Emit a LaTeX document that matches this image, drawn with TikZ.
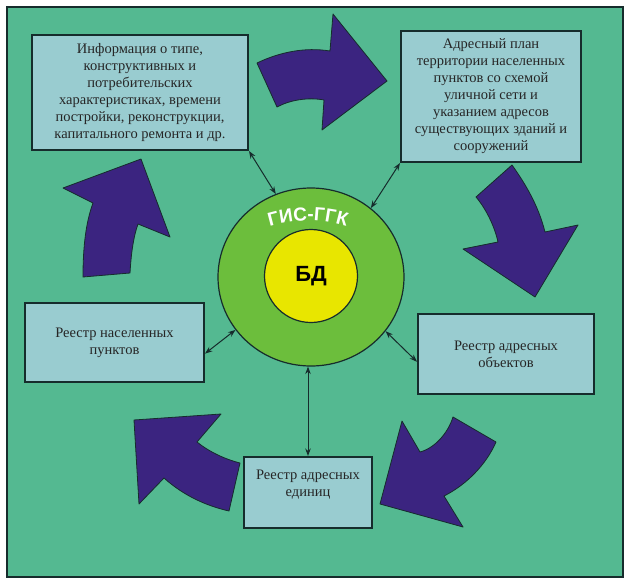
\documentclass[tikz,border=0pt]{standalone}
\usepackage{fontspec}
\setmainfont{Liberation Serif}
\newfontfamily\gisfont{Liberation Sans}
\usetikzlibrary{shapes.geometric,arrows.meta,decorations.text}

\definecolor{bggreen}{RGB}{84,185,145}
\definecolor{boxblue}{RGB}{153,204,208}
\definecolor{arrowpurple}{RGB}{59,36,128}
\definecolor{ringgreen}{RGB}{108,190,60}
\definecolor{bdyellow}{RGB}{232,230,0}
\definecolor{darkline}{RGB}{22,44,44}

\begin{document}
\begin{tikzpicture}[x=1pt,y=-1pt,
  box/.style={rectangle, draw=darkline, line width=2pt, fill=boxblue, inner sep=0pt},
  boxtext/.style={align=center, text=black!85, font=\fontsize{14.5}{17}\selectfont},
  bigarrow/.style={fill=arrowpurple, draw=darkline, line width=0.8pt, line join=round},
  link/.style={{Stealth[length=7.5pt,width=5.5pt]}-{Stealth[length=7.5pt,width=5.5pt]}, draw=darkline, line width=1pt}]

% frame
\fill[white] (0,0) rectangle (632,586);
\draw[fill=bggreen, draw=darkline, line width=2.5pt] (7,7) rectangle (623,577);

% boxes
\node (info) at (140,92.5) [box, boxtext, minimum width=216pt, minimum height=115pt] {Информация о типе,\\ конструктивных и\\ потребительских\\ характеристиках, времени\\ постройки, реконструкции,\\ капитального ремонта и др.};
\node (plan) at (491,96.5) [box, boxtext, minimum width=180pt, minimum height=131pt] {Адресный план\\ территории населенных\\ пунктов со схемой\\ уличной сети и\\ указанием адресов\\ существующих зданий и\\ сооружений};
\node (towns) at (114.5,342.5) [box, boxtext, minimum width=179pt, minimum height=79pt] {Реестр населенных\\ пунктов};
\node (objects) at (506,354) [box, boxtext, minimum width=176pt, minimum height=80pt] {Реестр адресных\\ объектов};
\node (units) at (308,492.5) [box, minimum width=128pt, minimum height=71pt] {};
\node (unitslabel) at (308,484.5) [boxtext] {Реестр адресных\\ единиц};

% circles
\node (gis) at (311,277) [ellipse, draw=darkline, line width=1.2pt, fill=ringgreen, minimum width=186pt, minimum height=178pt, inner sep=0pt] {};
\node (bd) at (311,276) [circle, draw=darkline, line width=1.2pt, fill=bdyellow, minimum size=93pt, inner sep=0pt] {\gisfont\bfseries\fontsize{22}{22}\selectfont БД};

\begin{scope}[yscale=-1]
\path[decorate, decoration={text along path, text align=center, text color=white,
  text={|\gisfont\bfseries\fontsize{19}{19}\selectfont|ГИС-ГГК}}]
  (262,-229) .. controls (290,-218) and (326,-218) .. (354,-229);
\end{scope}

% links to the database
\draw[link] (info.south east) -- (gis.113);
\draw[link] (plan.south west) -- (gis.49);
\draw[link] (towns.-7) -- (gis.215);
\draw[link] (objects.185) -- (gis.324);
\draw[link] (units.north) -- (units.north |- gis.south);

% curved arrows
\draw[bigarrow] (257,63) .. controls (280,52) and (305,47) .. (330,51) -- (333,14) -- (387,81) -- (322,130) -- (324,100) .. controls (308,97) and (290,100) .. (277,107) -- cycle;
\draw[bigarrow] (512,165) .. controls (524,182) and (538,204) .. (545,232) -- (578,225) -- (535,297) -- (463,249) -- (498,242) .. controls (495,228) and (487,210) .. (476,197) -- cycle;
\draw[bigarrow] (496,442) .. controls (486,465) and (466,485) .. (444,496) -- (463,527) -- (380,504) -- (402,421) -- (420,452) .. controls (435,448) and (448,433) .. (453,417) -- cycle;
\draw[bigarrow] (229,511) .. controls (207,506) and (184,496) .. (164,478) -- (139,504) -- (134,420) -- (221,414) -- (197,442) .. controls (208,451) and (224,459) .. (240,463) -- cycle;
\draw[bigarrow] (130,273) .. controls (131,256) and (133,238) .. (138,224) -- (170,237) -- (141,159) -- (63,188) -- (93,203) .. controls (86,222) and (83,246) .. (83,277) -- cycle;

\end{tikzpicture}
\end{document}
